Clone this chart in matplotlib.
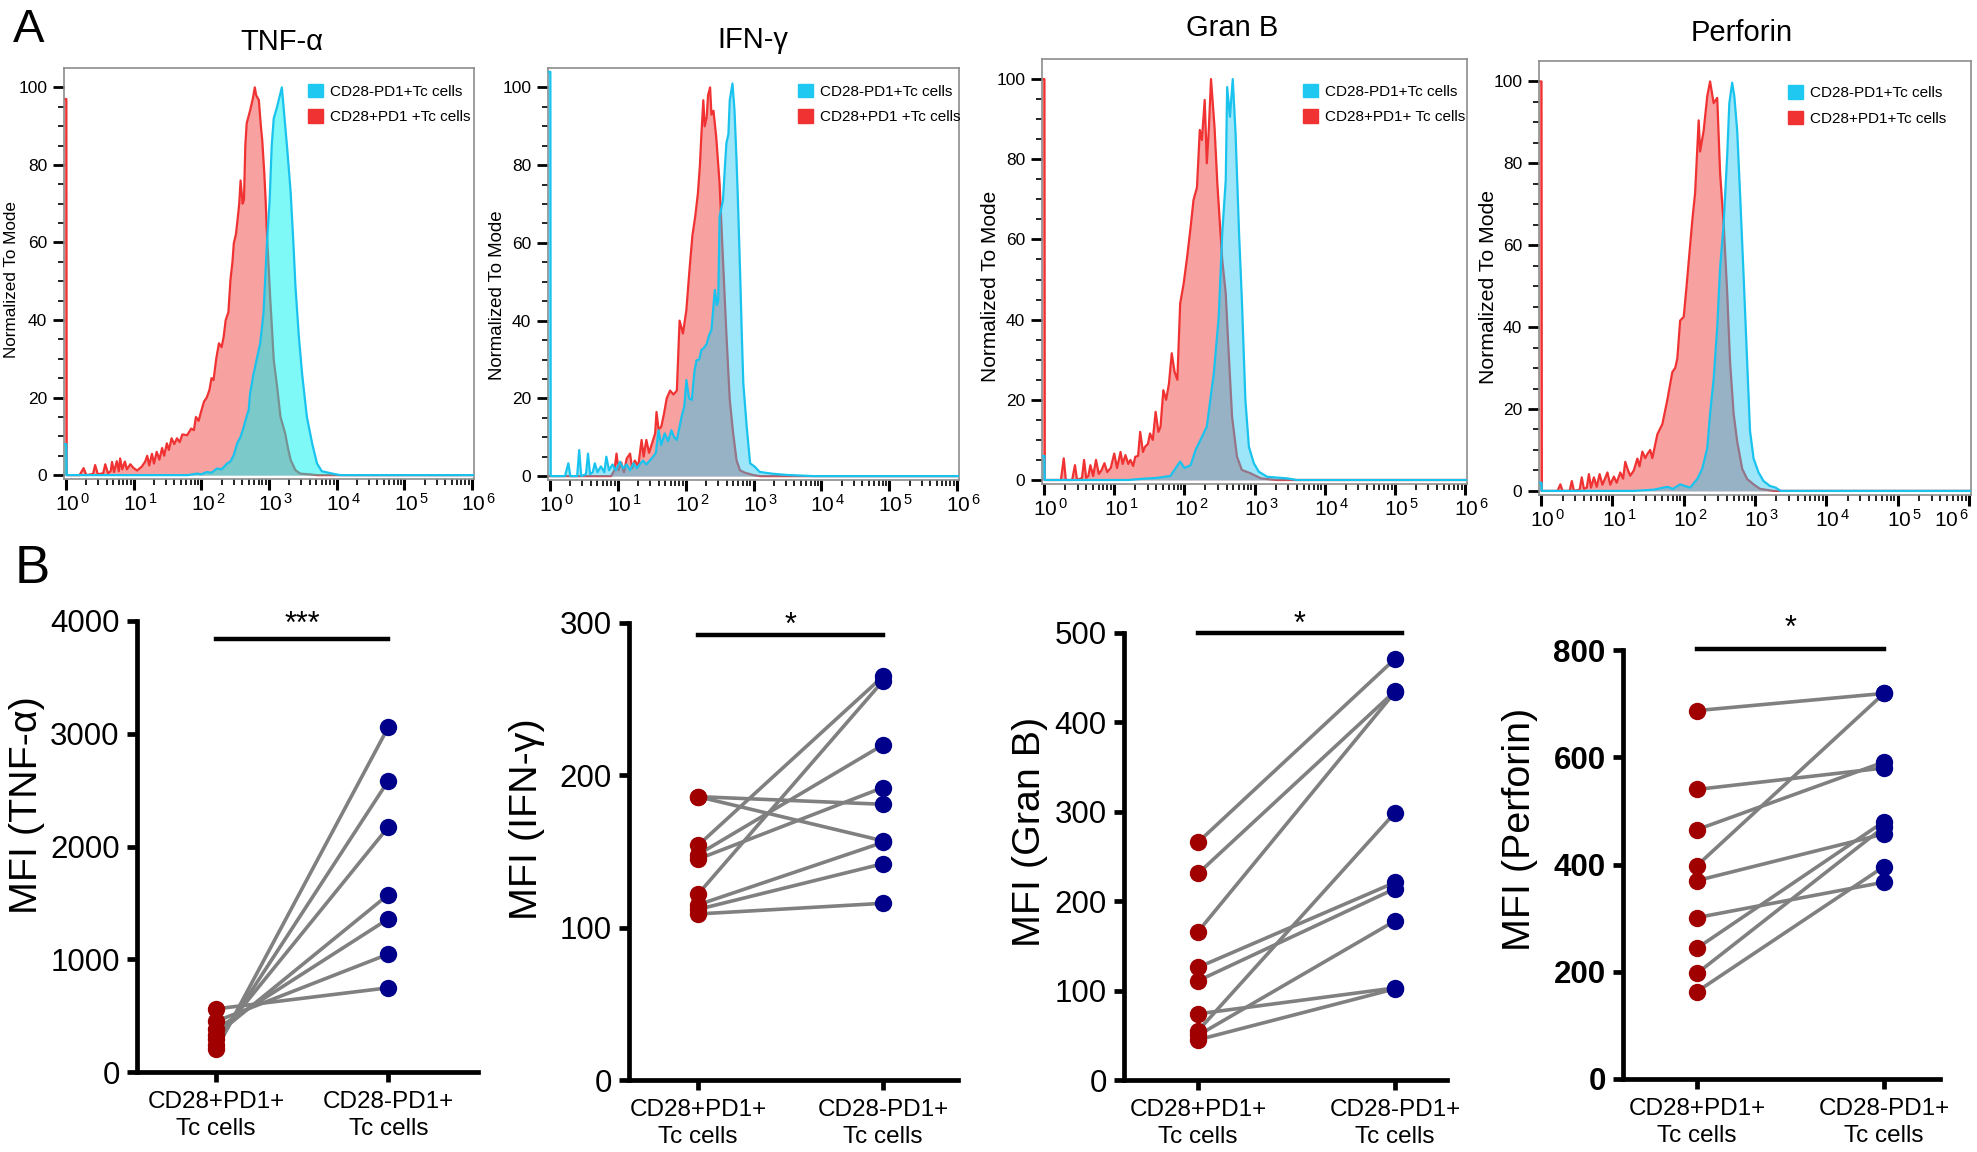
import numpy as np
import matplotlib
matplotlib.use('Agg')
import matplotlib.pyplot as plt
import matplotlib.transforms as mtransforms
from matplotlib.patches import Patch
from matplotlib.ticker import FixedLocator, NullFormatter, FixedFormatter

plt.rcParams['font.family'] = ['Liberation Sans', 'DejaVu Sans']
plt.rcParams['mathtext.fontset'] = 'custom'
plt.rcParams['mathtext.rm'] = 'Liberation Sans'

W, H = 1977, 1152

# ---------------- A: histograms (log10 fluorescence, % of mode) ----------------
hist_titles = ['TNF-α', 'IFN-γ', 'Gran B', 'Perforin']
legend_neg = ['CD28-PD1+Tc cells'] * 4
legend_pos = ['CD28+PD1 +Tc cells', 'CD28+PD1 +Tc cells', 'CD28+PD1+ Tc cells', 'CD28+PD1+Tc cells']

tnf_red_x = [-0.03, 0.005, 0.01, 0.20, 0.26, 0.30, 0.40, 0.43, 0.47, 0.55, 0.58, 0.62, 0.66, 0.68, 0.71,
             0.75, 0.78, 0.80, 0.83, 0.87, 0.90, 0.95, 1.00, 1.05, 1.12, 1.17, 1.20, 1.23, 1.27, 1.30,
             1.34, 1.38, 1.42, 1.45, 1.49, 1.52, 1.56, 1.60, 1.64, 1.68, 1.72, 1.79, 1.85, 1.89, 1.92,
             1.96, 1.99, 2.04, 2.08, 2.12, 2.15, 2.18, 2.22, 2.26, 2.30, 2.33, 2.36, 2.40, 2.43, 2.46,
             2.48, 2.51, 2.53, 2.56, 2.58, 2.61, 2.63, 2.65, 2.67, 2.72, 2.76, 2.79, 2.81, 2.85, 2.88,
             2.90, 2.93, 2.95, 2.97, 3.00, 3.02, 3.05, 3.07, 3.12, 3.17, 3.24, 3.28, 3.32, 3.39, 3.46,
             3.60, 3.71, 6.03]
tnf_red_y = [97, 97, 0, 0, 1.8, 0, 0.3, 2.6, 0.2, 0.5, 2.8, 0.5, 1, 3.4, 0.8,
             3.6, 1, 4.3, 1.5, 3.5, 1.5, 2.8, 1.8, 1.2, 2.2, 3.5, 5.0, 2.5, 5.5, 3,
             6, 4, 7, 5, 8.2, 6.5, 9.5, 8, 9.5, 8.5, 10.5, 10.3, 12, 11.6, 15,
             14, 16, 19, 20, 22, 25, 24.5, 30, 34, 33, 35.7, 40, 42, 50.3, 55,
             59.8, 62, 65, 70, 76, 70, 71, 85, 90.7, 94, 97, 100, 98, 96.7, 90,
             86.4, 78, 71, 62, 52, 45, 36, 29.7, 22.8, 15, 10.7, 7, 3.9, 1.3, 0.4,
             0.2, 0, 0]
tnf_cyan_x = [-0.03, 0.005, 0.01, 1.8, 1.94, 2.0, 2.08, 2.15, 2.23, 2.30, 2.38, 2.43, 2.48, 2.53, 2.58,
              2.62, 2.65, 2.70, 2.72, 2.77, 2.82, 2.87, 2.92, 2.97, 3.01, 3.04, 3.07, 3.12, 3.19, 3.22,
              3.27, 3.32, 3.36, 3.39, 3.44, 3.49, 3.56, 3.64, 3.71, 3.78, 3.96, 4.05, 6.03]
tnf_cyan_y = [8, 8, 0, 0, 0.4, 0.2, 0.8, 0.6, 1.7, 1.5, 3, 3.5, 5.2, 8.2, 9.9,
              12, 14, 16.8, 21, 26, 30, 34, 42, 60, 71, 85, 92, 95, 100, 94,
              84, 73, 60, 49, 36, 26, 15, 8, 3, 1, 0.3, 0, 0]

ifn_red_x = [-0.03, 0.9, 0.95, 0.98, 1.01, 1.05, 1.09, 1.13, 1.18, 1.21, 1.25, 1.30, 1.35, 1.38, 1.42,
             1.46, 1.52, 1.55, 1.57, 1.60, 1.64, 1.68, 1.72, 1.77, 1.82, 1.87, 1.91, 1.96, 2.01, 2.06,
             2.10, 2.14, 2.18, 2.21, 2.23, 2.26, 2.28, 2.31, 2.33, 2.36, 2.38, 2.41, 2.45, 2.50, 2.55,
             2.60, 2.65, 2.70, 2.75, 2.80, 2.87, 2.99, 3.10, 6.03]
ifn_red_y = [0, 0, 1.5, 5.8, 1.5, 3.5, 1, 4.5, 5.8, 2, 4, 2.5, 9.3, 5, 9.3,
             6, 9.3, 11, 16.5, 12, 12.7, 16, 20, 22, 21, 22, 40, 36.7, 42.7, 53.9,
             62, 66.7, 72.7, 80, 87.3, 96.7, 90, 92.4, 98, 100, 93, 94, 87.3, 75.3, 55.6,
             36.7, 19.6, 11, 4.1, 1.5, 0.9, 0.3, 0, 0]
ifn_cyan_x = [-0.03, 0.005, 0.01, 0.22, 0.27, 0.30, 0.40, 0.43, 0.46, 0.53, 0.56, 0.59, 0.63, 0.66, 0.70,
              0.75, 0.80, 0.83, 0.87, 0.92, 0.97, 1.03, 1.08, 1.13, 1.18, 1.23, 1.28, 1.32, 1.37, 1.42,
              1.47, 1.52, 1.56, 1.60, 1.64, 1.69, 1.74, 1.79, 1.83, 1.87, 1.94, 1.98, 2.01, 2.05, 2.09,
              2.13, 2.16, 2.20, 2.23, 2.27, 2.31, 2.34, 2.38, 2.43, 2.46, 2.48, 2.50, 2.55, 2.58, 2.60,
              2.63, 2.65, 2.69, 2.72, 2.75, 2.77, 2.80, 2.83, 2.85, 2.90, 2.95, 3.02, 3.09, 3.20, 3.29,
              3.49, 3.88, 6.03]
ifn_cyan_y = [104, 104, 0, 0, 3.3, 0, 0, 6.7, 0, 0.5, 5.8, 0.5, 1, 3.3, 1,
              2.5, 1, 5, 1.5, 3, 1.5, 3.7, 2, 3, 1.5, 3.3, 2, 3, 4, 3,
              4, 5, 6, 11.8, 8, 11, 9, 11.8, 10, 9.3, 15.3, 18, 24.7, 20, 19.6,
              27, 29.8, 30, 32.4, 33, 34, 36, 37.6, 47.9, 44, 45.3, 66.7, 71, 80, 85.6,
              88, 96.7, 101, 94, 81.3, 71, 53.9, 35, 23.8, 12.7, 3.3, 2.4, 1.1, 0.8, 0.6,
              0.3, 0, 0]

granb_red_x = [-0.03, 0.005, 0.01, 0.24, 0.28, 0.31, 0.40, 0.44, 0.47, 0.54, 0.57, 0.60, 0.63, 0.66, 0.70,
               0.74, 0.78, 0.82, 0.86, 0.90, 0.95, 1.00, 1.04, 1.09, 1.12, 1.16, 1.20, 1.23, 1.27, 1.30,
               1.34, 1.37, 1.41, 1.44, 1.48, 1.51, 1.55, 1.59, 1.63, 1.66, 1.70, 1.74, 1.78, 1.82, 1.86,
               1.90, 1.94, 1.99, 2.04, 2.09, 2.13, 2.18, 2.22, 2.25, 2.29, 2.32, 2.35, 2.38, 2.43, 2.47,
               2.50, 2.54, 2.59, 2.63, 2.68, 2.75, 2.82, 2.94, 3.09, 3.32, 6.05]
granb_red_y = [100, 100, 0, 0, 5.4, 0, 0, 3.7, 0, 0.5, 5, 0.5, 1, 3.7, 1,
               5, 1.5, 2.5, 4.2, 2, 3, 6.6, 3, 7, 4, 6.2, 4, 5, 3.5, 5.8,
               6, 12, 7, 8.3, 9, 11.6, 10, 17, 12, 13.3, 22.4, 20, 24, 31.6, 27,
               25, 44, 49, 55.7, 63.2, 69.8, 73, 87.3, 84.8, 94.8, 79, 88, 100, 88, 74,
               65.7, 54.9, 46.5, 32.4, 15.8, 5.8, 2.5, 1.7, 0.4, 0, 0]
granb_cyan_x = [-0.03, 0.005, 0.01, 1.2, 1.4, 1.6, 1.8, 1.94, 2.0, 2.09, 2.16, 2.23, 2.32, 2.37, 2.42,
                2.49, 2.54, 2.59, 2.61, 2.65, 2.69, 2.73, 2.78, 2.82, 2.87, 2.92, 2.99, 3.06, 3.18, 3.47,
                3.60, 6.05]
granb_cyan_y = [6, 6, 0, 0, 0.3, 0.5, 1, 4.6, 3, 3.7, 7.5, 10, 13.3, 20, 26.6,
                40.7, 61.5, 74.8, 98, 90.6, 100, 86.4, 61.5, 44.9, 20, 8.3, 4.2, 2.1, 0.8, 0.4,
                0, 0]

perf_red_x = [-0.03, 0.005, 0.01, 0.23, 0.27, 0.30, 0.40, 0.43, 0.46, 0.54, 0.57, 0.60, 0.64, 0.67, 0.70,
              0.74, 0.78, 0.82, 0.86, 0.93, 0.97, 1.02, 1.06, 1.11, 1.15, 1.18, 1.22, 1.25, 1.30, 1.35,
              1.38, 1.42, 1.46, 1.49, 1.53, 1.56, 1.63, 1.70, 1.77, 1.84, 1.88, 1.91, 1.95, 2.00, 2.04,
              2.07, 2.12, 2.16, 2.21, 2.23, 2.28, 2.33, 2.37, 2.42, 2.47, 2.51, 2.56, 2.61, 2.65, 2.70,
              2.75, 2.82, 2.89, 2.98, 3.07, 3.26, 6.03]
perf_red_y = [100, 100, 0, 0, 1.6, 0, 0, 2.4, 0, 0.3, 3.3, 0.5, 0.8, 4.1, 0.8,
              3.3, 1, 4.1, 1.5, 4.5, 1.5, 3.5, 2, 4.5, 3, 7.1, 5, 3.7, 5, 7.9,
              6, 9.6, 8, 9, 10, 8, 13.8, 16.3, 22.2, 29, 30, 32.3, 41.6, 42.5, 50,
              56, 66, 72.8, 90.5, 82.9, 88, 96.4, 100, 94.7, 96, 77.8, 65.2, 48.4, 31.5, 18.9,
              12.1, 5.4, 2.9, 1.6, 0.5, 0, 0]
perf_cyan_x = [-0.03, 0.005, 0.01, 1.3, 1.58, 1.77, 1.85, 1.95, 2.09, 2.19, 2.26, 2.33, 2.37, 2.42, 2.47,
               2.51, 2.56, 2.61, 2.64, 2.68, 2.71, 2.75, 2.79, 2.84, 2.89, 2.93, 2.98, 3.05, 3.12, 3.21,
               3.29, 3.36, 6.03]
perf_cyan_y = [2, 2, 0, 0, 0.3, 1, 0.5, 1.6, 0.8, 2.9, 5.4, 10.4, 18.9, 27.3, 39.9,
               54.3, 65.2, 82, 94.7, 99.7, 96.4, 88, 72.8, 52.6, 31.5, 14.7, 7.9, 4.5, 2.4, 1.2,
               0.8, 0, 0]

red_x = [tnf_red_x, ifn_red_x, granb_red_x, perf_red_x]
red_y = [tnf_red_y, ifn_red_y, granb_red_y, perf_red_y]
cyan_x = [tnf_cyan_x, ifn_cyan_x, granb_cyan_x, perf_cyan_x]
cyan_y = [tnf_cyan_y, ifn_cyan_y, granb_cyan_y, perf_cyan_y]

# ---------------- B: paired MFI values ----------------
groups = ['CD28+PD1+\nTc cells', 'CD28-PD1+\nTc cells']
mfi_labels = ['MFI (TNF-α)', 'MFI (IFN-γ)', 'MFI (Gran B)', 'MFI (Perforin)']
stars = ['***', '*', '*', '*']

tnf_pos = [200, 240, 290, 330, 380, 450, 560]
tnf_neg = [3061, 2585, 2175, 1574, 1359, 1046, 747]
ifn_pos = [186, 186, 154, 148, 145, 122, 115, 112, 109]
ifn_neg = [181, 157, 265, 220, 192, 262, 156, 142, 116]
granb_pos = [266, 231, 166, 126, 111, 74, 55, 50, 45]
granb_neg = [471, 435, 434, 221, 214, 103, 299, 178, 102]
perf_pos = [687, 540, 465, 398, 370, 301, 244, 197, 163]
perf_neg = [719, 580, 591, 719, 457, 367, 480, 470, 396]

pos_vals = [tnf_pos, ifn_pos, granb_pos, perf_pos]
neg_vals = [tnf_neg, ifn_neg, granb_neg, perf_neg]
y_max = [4000, 300, 500, 800]
y_step = [1000, 100, 100, 200]
sig_y = [3840, 292, 500, 802]

fig = plt.figure(figsize=(W / 100, H / 100), dpi=100)


def rect(l, t, r, b):
    return [l / W, 1 - b / H, (r - l) / W, (b - t) / H]


hist_boxes = [(64, 68, 474, 479), (548, 68, 959, 480), (1042, 59, 1467, 484), (1539, 61, 1971, 495)]
title_xy = [(282, 42), (753, 40), (1232, 28), (1742, 33)]
ylab_xy = [(12, 279), (498, 295), (990, 286), (1488, 287)]
ylab_fs = [12.3, 13.4, 15, 15.3]
leg_anchor = [(0.595, 0.962), (0.608, 0.962), (0.614, 0.942), (0.576, 0.945)]
cyan_fills = [(0.0, 0.95, 0.95), (0.15, 0.78, 0.95), (0.15, 0.78, 0.95), (0.15, 0.78, 0.95)]
cyan_alpha = [0.5, 0.45, 0.45, 0.45]
red_line = '#F03232'
pink = '#F7A1A1'
cyan_line = '#19C3EE'

shift = mtransforms.ScaledTranslation(5 / 72, 0, fig.dpi_scale_trans)

for i in range(4):
    ax = fig.add_axes(rect(*hist_boxes[i]))
    rx = 10 ** np.array(red_x[i])
    cx = 10 ** np.array(cyan_x[i])
    ax.fill_between(rx, 0, red_y[i], color=pink, lw=0, zorder=1)
    ax.plot(rx, red_y[i], color=red_line, lw=1.6, zorder=2)
    ax.fill_between(cx, 0, cyan_y[i], color=cyan_fills[i], alpha=cyan_alpha[i], lw=0, zorder=3)
    ax.plot(cx, cyan_y[i], color=cyan_line, lw=1.6, zorder=4)
    ax.set_xscale('log')
    ax.set_xlim(10 ** -0.03, 10 ** 6.03)
    ax.set_ylim(-1, 105)
    ax.xaxis.set_major_locator(FixedLocator([10.0 ** k for k in range(7)]))
    ax.xaxis.set_major_formatter(FixedFormatter([r'$\mathrm{10^{\,%d}}$' % k for k in range(7)]))
    ax.xaxis.set_minor_locator(FixedLocator([m * 10.0 ** k for k in range(6) for m in range(2, 10)]))
    ax.xaxis.set_minor_formatter(NullFormatter())
    ax.set_yticks(range(0, 101, 20))
    ax.set_yticks(range(0, 101, 5), minor=True)
    ax.tick_params(axis='x', which='major', length=8, width=2.2, labelsize=15, pad=2)
    ax.tick_params(axis='x', which='minor', length=4, width=1.2)
    ax.tick_params(axis='y', which='major', length=8, width=2, labelsize=12.5, pad=4)
    ax.tick_params(axis='y', which='minor', length=4, width=1.2)
    xlabs = ax.get_xticklabels()
    for k, lab in enumerate(xlabs):
        if i == 3 and k == len(xlabs) - 1:
            lab.set_horizontalalignment('right')
        else:
            lab.set_transform(lab.get_transform() + shift)
    for sp in ax.spines.values():
        sp.set_color('#8C8C8C')
        sp.set_linewidth(1.2)
    handles = [Patch(color='#1EC8F0', label=legend_neg[i]), Patch(color='#F03232', label=legend_pos[i])]
    ax.legend(handles=handles, loc='upper left', bbox_to_anchor=leg_anchor[i], frameon=False,
              borderaxespad=0, borderpad=0, handlelength=1.0, handleheight=1.0, handletextpad=0.45,
              labelspacing=0.7, prop={'size': 11})
    fig.text(title_xy[i][0] / W, 1 - title_xy[i][1] / H, hist_titles[i], ha='center', va='center',
             fontsize=21)
    fig.text(ylab_xy[i][0] / W, 1 - ylab_xy[i][1] / H, 'Normalized To Mode', rotation=90,
             ha='center', va='center', fontsize=ylab_fs[i])

fig.text(13 / W, 1 - 30 / H, 'A', ha='left', va='center', fontsize=34)
fig.text(15 / W, 1 - 569 / H, 'B', ha='left', va='center', fontsize=38)

# ---------------- B panels ----------------
mfi_boxes = [(137, 621, 478, 1072), (629, 623, 958, 1080), (1124, 633, 1447, 1080), (1623, 650, 1940, 1079)]
mfi_xlim = [(-0.46, 1.52), (-0.373, 1.405), (-0.376, 1.264), (-0.396, 1.30)]
mfi_ylab_x = [27, 527, 1030, 1520]
mfi_ylab_y = [805, 819, 832, 829]
star_off = [4.5, 1, 0, 9]
bar_end = [1.0, 1.0, 1.035, 1.0]
dark_red = '#A00000'
navy = '#00008B'

for i in range(4):
    ax = fig.add_axes(rect(*mfi_boxes[i]))
    p = pos_vals[i]
    n = neg_vals[i]
    for a, b in zip(p, n):
        ax.plot([0, 1], [a, b], color='#808080', lw=2.6, zorder=1, solid_capstyle='round')
    ax.plot(np.zeros(len(p)), p, 'o', color=dark_red, ms=12.5, mew=0, zorder=3, clip_on=False)
    ax.plot(np.ones(len(n)), n, 'o', color=navy, ms=12.5, mew=0, zorder=3, clip_on=False)
    ax.set_xlim(*mfi_xlim[i])
    ax.set_ylim(0, y_max[i])
    ax.set_yticks(np.arange(0, y_max[i] + 1, y_step[i]))
    ax.set_xticks([0, 1])
    ax.set_xticklabels(groups, fontsize=17.5, linespacing=1.3)
    ax.tick_params(axis='y', length=7.5, width=3.4, labelsize=22.5, pad=5)
    ax.tick_params(axis='x', length=7.5, width=3.4, pad=6)
    if i == 3:
        for lab in ax.get_yticklabels():
            lab.set_fontweight('bold')
    for s in ['top', 'right']:
        ax.spines[s].set_visible(False)
    for s in ['left', 'bottom']:
        ax.spines[s].set_linewidth(3.4)
    ax.plot([0, bar_end[i]], [sig_y[i], sig_y[i]], color='black', lw=3.2, clip_on=False)
    ax.annotate(stars[i], xy=(bar_end[i] / 2, sig_y[i]), xytext=(0, star_off[i]),
                textcoords='offset points', ha='center', va='baseline', fontsize=22,
                annotation_clip=False)
    fig.text(mfi_ylab_x[i] / W, 1 - mfi_ylab_y[i] / H, mfi_labels[i], rotation=90,
             ha='center', va='center', fontsize=28.4)

fig.savefig('out.png', dpi=100)
